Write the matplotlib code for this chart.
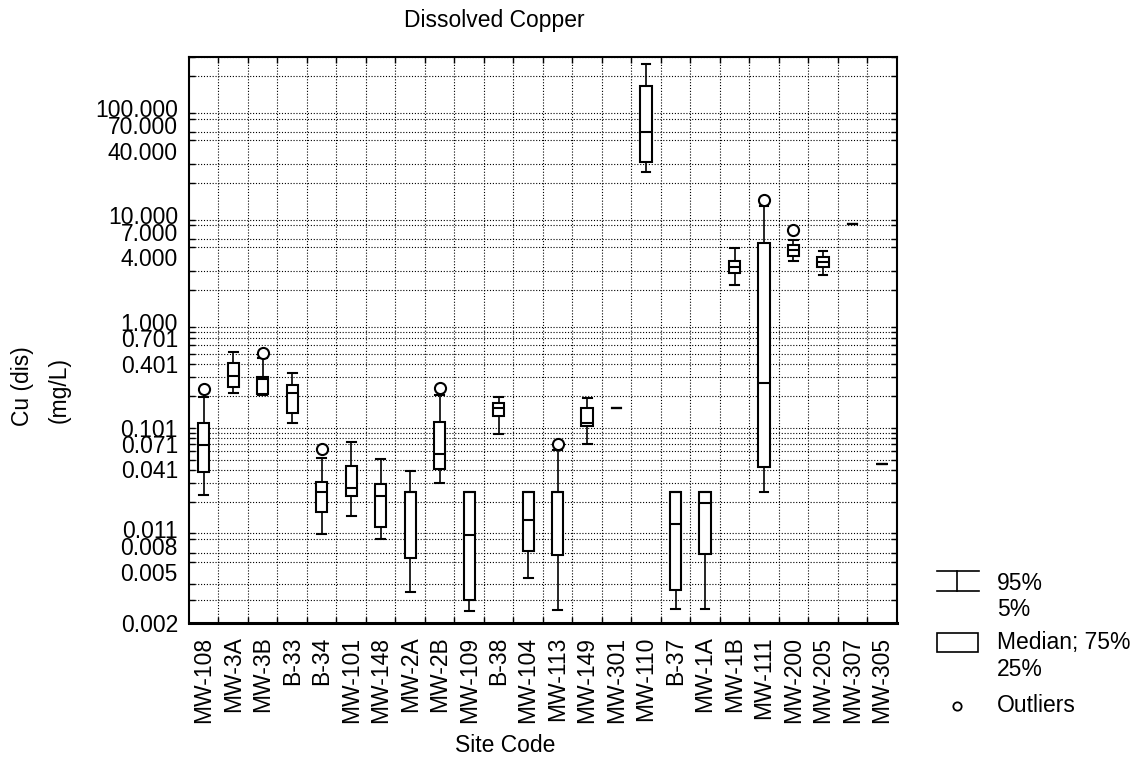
import numpy as np
import matplotlib
matplotlib.use("Agg")
import matplotlib.pyplot as plt
from matplotlib.patches import Rectangle
from matplotlib.lines import Line2D
from matplotlib.ticker import FixedLocator, FixedFormatter, NullFormatter

plt.rcParams['font.family'] = ['Liberation Sans', 'DejaVu Sans']
plt.rcParams['font.size'] = 16.5

# ---- data (mg/L) ----
sites = ['MW-108', 'MW-3A', 'MW-3B', 'B-33', 'B-34', 'MW-101', 'MW-148', 'MW-2A',
         'MW-2B', 'MW-109', 'B-38', 'MW-104', 'MW-113', 'MW-149', 'MW-301', 'MW-110',
         'B-37', 'MW-1A', 'MW-1B', 'MW-111', 'MW-200', 'MW-205', 'MW-307', 'MW-305']
p05 = [0.0231, 0.215, 0.205, 0.112, 0.0098, 0.0146, 0.00897, 0.00349,
       0.0299, 0.00248, 0.0871, 0.00445, 0.00251, 0.070, 0.153, 25.5,
       0.00255, 0.00255, 2.21, 0.0248, 3.73, 2.74, 8.24, 0.0455]
q25 = [0.038, 0.242, 0.209, 0.139, 0.0158, 0.0227, 0.01156, 0.00637,
       0.0408, 0.00301, 0.130, 0.00726, 0.00676, 0.105, 0.153, 31.2,
       0.0036, 0.00684, 2.84, 0.0430, 4.13, 3.24, 8.24, 0.0455]
median = [0.069, 0.308, 0.287, 0.212, 0.0248, 0.0268, 0.0226, 0.0245,
          0.0566, 0.00969, 0.153, 0.01337, 0.0245, 0.112, 0.153, 59.6,
          0.01226, 0.01953, 3.24, 0.264, 4.70, 3.65, 8.24, 0.0455]
q75 = [0.112, 0.407, 0.304, 0.254, 0.0309, 0.0436, 0.0292, 0.0245,
       0.1146, 0.0245, 0.173, 0.0245, 0.0245, 0.153, 0.153, 162.0,
       0.0245, 0.0245, 3.71, 5.43, 5.23, 4.01, 8.24, 0.0455]
p95 = [0.197, 0.523, 0.456, 0.331, 0.0519, 0.0741, 0.0512, 0.0393,
       0.204, 0.0245, 0.196, 0.0245, 0.0618, 0.193, 0.153, 258.0,
       0.0245, 0.0245, 4.94, 12.1, 5.82, 4.60, 8.24, 0.0455]
outliers = [[0.233], [], [0.511], [], [0.0632], [], [], [], [0.236], [], [], [],
            [0.0706], [], [], [], [], [], [], [13.8], [7.22], [], [], []]

ytick_vals = [0.002, 0.005, 0.008, 0.011, 0.041, 0.071, 0.101, 0.401, 0.701,
              1.0, 4.0, 7.0, 10.0, 40.0, 70.0, 100.0]

# the scanned axis is not evenly spaced per decade: piecewise log scale
dec_log = [np.log10(0.002), -2, -1, 0, 1, 2, np.log10(300)]
dec_pos = [-622.7, -533.3, -428.0, -321.7, -215.0, -108.3, -57.0]

def fwd(v):
    v = np.clip(np.asarray(v, dtype=float), 1e-6, None)
    return np.interp(np.log10(v), dec_log, dec_pos)

def inv(p):
    return 10 ** np.interp(np.asarray(p, dtype=float), dec_pos, dec_log)

W, H = 1138, 767
fig = plt.figure(figsize=(W / 100, H / 100), dpi=100)
ax = fig.add_axes([189 / W, 1 - 622.7 / H, (896.7 - 189) / W, (622.7 - 57) / H])
ax.set_yscale('function', functions=(fwd, inv))
ax.set_ylim(0.002, 300)
ax.set_xlim(0.5, len(sites) + 0.5)

stats = []
for i in range(len(sites)):
    stats.append(dict(label=sites[i], whislo=p05[i], q1=q25[i], med=median[i],
                      q3=q75[i], whishi=p95[i], fliers=outliers[i]))

ax.bxp(stats, positions=np.arange(1, len(sites) + 1), widths=0.38, capwidths=0.3,
       patch_artist=True, manage_ticks=False,
       boxprops=dict(facecolor='white', edgecolor='black', linewidth=1.5),
       medianprops=dict(color='black', linewidth=1.5),
       whiskerprops=dict(color='black', linewidth=1.2),
       capprops=dict(color='black', linewidth=1.5),
       flierprops=dict(marker='o', markerfacecolor='white', markeredgecolor='black',
                       markersize=8, markeredgewidth=1.5))

# ticks and grid
minor_y = [k * 10.0 ** e for e in range(-3, 3) for k in range(1, 10)
           if 0.002 <= k * 10.0 ** e <= 300]
ax.yaxis.set_major_locator(FixedLocator(ytick_vals))
ax.yaxis.set_major_formatter(FixedFormatter([f'{v:.3f}' for v in ytick_vals]))
ax.yaxis.set_minor_locator(FixedLocator(minor_y))
ax.yaxis.set_minor_formatter(NullFormatter())
ax.set_xticks(np.arange(1, len(sites) + 1))
ax.set_xticklabels(sites, rotation=90)
ax.set_xticks(np.arange(1.5, len(sites)), minor=True)

ax.tick_params(which='major', length=0, pad=8)
ax.tick_params(axis='x', which='major', pad=10)
ax.tick_params(which='minor', direction='in', length=4, width=1,
               top=True, right=True, color='black')
ax.grid(False, which='major')
ax.grid(True, which='minor', color='black', linestyle=(0, (1, 1.6)), linewidth=0.8)
ax.set_axisbelow(True)
for s in ax.spines.values():
    s.set_linewidth(1.5)
ax.spines['bottom'].set_linewidth(2.2)

# texts
fig.text(494 / W, 1 - 20 / H, 'Dissolved Copper', ha='center', va='center')
fig.text(505 / W, 1 - 745 / H, 'Site Code', ha='center', va='center')
fig.text(23 / W, 1 - 386 / H, 'Cu (dis)', rotation=90, ha='center', va='center')
fig.text(59 / W, 1 - 390 / H, '(mg/L)', rotation=90, ha='center', va='center')

# legend (drawn in pixel positions of the figure)
def fx(x):
    return x / W

def fy(y):
    return 1 - y / H

for yy in (571, 590.7):
    fig.add_artist(Line2D([fx(937), fx(979)], [fy(yy), fy(yy)], color='black', lw=1.2))
fig.add_artist(Line2D([fx(957.3), fx(957.3)], [fy(571), fy(590.7)], color='black', lw=1.2))
fig.text(fx(997), fy(583), '95%', va='center')
fig.text(fx(997), fy(610), '5%', va='center')
fig.add_artist(Rectangle((fx(937), fy(651.7)), fx(978.3) - fx(937), fy(632.7) - fy(651.7),
                         facecolor='white', edgecolor='black', lw=1.2,
                         transform=fig.transFigure))
fig.text(fx(997), fy(643), 'Median; 75%', va='center')
fig.text(fx(997), fy(670), '25%', va='center')
fig.add_artist(Line2D([fx(957)], [fy(706)], marker='o', markersize=6,
                      markerfacecolor='white', markeredgecolor='black', mew=1.3))
fig.text(fx(997), fy(706), 'Outliers', va='center')

fig.savefig('out.png', dpi=100)
